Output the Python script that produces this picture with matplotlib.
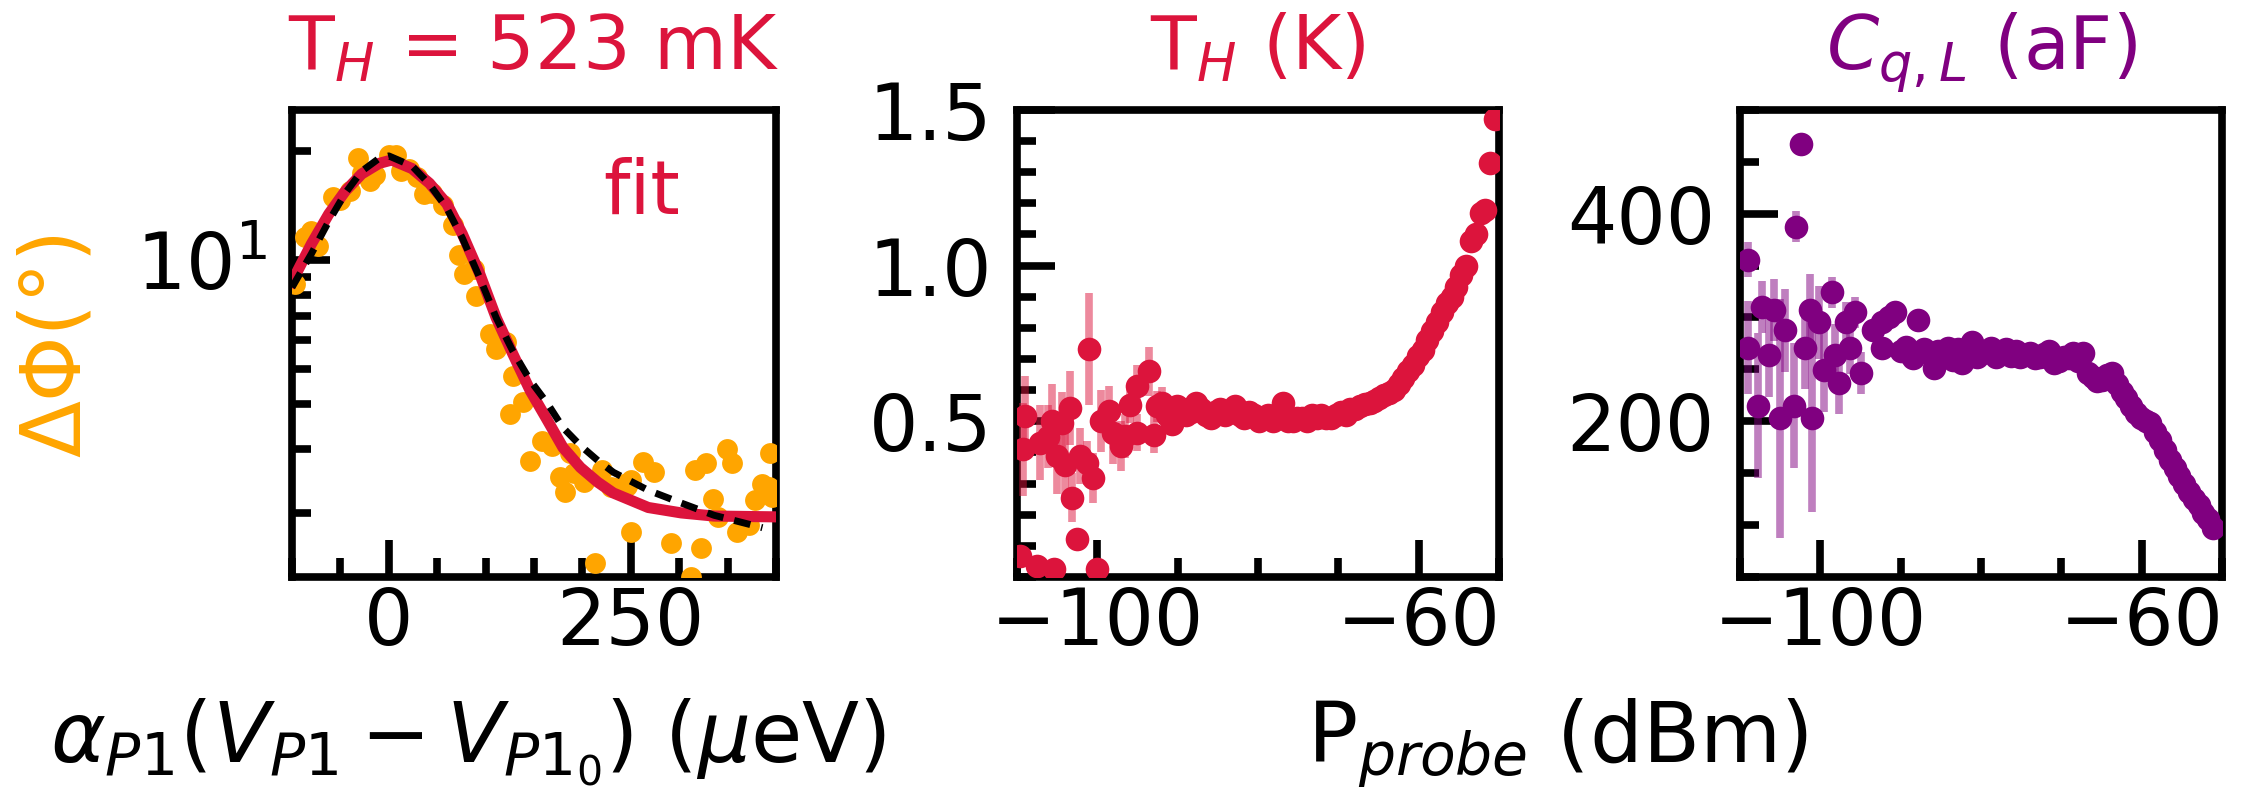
import numpy as np
import matplotlib
matplotlib.use('Agg')
import matplotlib.pyplot as plt
from matplotlib.ticker import MultipleLocator, NullFormatter

# ---- left panel: phase response vs detuning ----
phi_x = [-97.2, -86.8, -79.9, -72.9, -57.3, -50.3, -39.9, -31.3, -27.8, -19.1, -13.9, 0.0, 7.0,
         12.2, 20.8, 29.5, 36.5, 45.1, 55.5, 65.9, 72.9, 78.1, 88.5, 90.3, 104.2, 111.1, 121.6,
         128.4, 125.0, 138.9, 145.8, 158.0, 168.4, 177.1, 182.3, 190.9, 201.4, 220.5, 229.2,
         250.0, 262.2, 274.3, 250.0, 291.7, 315.9, 328.1, 322.9, 312.5, 213.5, 335.1, 349.0,
         354.2, 340.3, 359.4, 371.6, 378.4, 385.4, 394.1, 395.8, 187.5, 243.0, 392.4, 246.5]
phi_y = [8.57, 11.6, 12.0, 10.9, 14.9, 14.7, 15.5, 19.1, 17.4, 16.5, 17.2, 19.5, 19.5,
         17.6, 17.9, 17.0, 15.2, 15.3, 14.2, 12.5, 10.3, 9.14, 9.42, 7.96, 6.24, 5.68, 5.92,
         4.79, 3.76, 4.05, 2.79, 3.17, 3.07, 2.51, 2.29, 2.57, 2.44, 2.63, 2.36,
         2.46, 2.77, 2.60, 1.77, 1.65, 2.63, 2.74, 1.60, 1.33, 1.45, 2.19, 3.01,
         2.74, 1.95, 1.77, 1.85, 2.17, 2.41, 2.92, 2.21, 2.92, 2.41, 2.36, 2.38]

fit_x = [-100, -80, -62, -45, -28, -10, 3, 24, 42, 60, 76, 94, 111, 128, 146, 164, 180,
         198, 216, 232, 268, 302, 336, 400]
fit_y = [8.7, 11.07, 13.4, 15.5, 17.3, 18.5, 18.9, 17.9, 16.3, 14.3, 11.8, 9.15, 6.92, 5.51,
         4.36, 3.60, 3.03, 2.67, 2.43, 2.27, 2.07, 2.00, 1.96, 1.95]

th_x = [-100, -80, -62, -45, -28, -10, 0, 24, 42, 60, 76, 94, 111, 128, 146, 164, 180,
        198, 216, 232, 268, 302, 336, 386]
th_y = [8.4, 10.4, 12.8, 15.3, 17.6, 19.1, 19.4, 18.2, 16.2, 13.9, 11.5, 8.92, 6.92, 5.61,
        4.65, 4.01, 3.44, 3.07, 2.79, 2.59, 2.31, 2.13, 1.97, 1.82]

# ---- middle panel: T_H vs probe power ----
th_p = [-109.6, -109.2, -109.0, -107.5, -107.1, -106.1, -105.6, -105.4, -105.0, -104.4,
        -104.0, -103.4, -103.1, -102.5, -102.1, -101.3, -101.0, -100.5, -100.0, -99.6,
        -98.6, -98.0, -97.1, -96.5, -95.9, -95.1, -95.1, -93.6, -93.0, -92.6,
        -91.9, -91.3, -90.7, -90.1, -89.5, -88.9, -88.3, -87.7, -87.1, -86.5, -85.9, -85.3,
        -84.7, -84.1, -83.5, -82.9, -82.3, -81.7, -81.1, -80.5, -79.9, -79.3, -78.7, -78.1,
        -77.5, -76.9, -76.3, -75.7, -75.1, -74.5, -73.9, -73.3, -72.7, -72.1, -71.5, -70.9,
        -70.3, -69.7, -69.1, -68.5, -67.9, -67.3,
        -66.7, -66.1, -65.5, -64.9, -64.3, -63.7, -63.1, -62.5, -61.9, -61.3, -60.7, -60.1,
        -59.5, -58.9, -58.3, -57.7, -57.1, -56.5, -55.9, -55.3, -54.7, -54.1, -53.5, -52.9,
        -52.3, -51.7, -51.1, -50.5]
th_val = [0.068, 0.41, 0.516, 0.036, 0.431, 0.451, 0.50, 0.026, 0.388, 0.495,
          0.361, 0.543, 0.255, 0.122, 0.388, 0.367, 0.731, 0.319, 0.026, 0.50,
          0.532, 0.463, 0.42, 0.452, 0.553, 0.612, 0.463, 0.66, 0.457, 0.548,
          0.56, 0.52, 0.49, 0.55, 0.54, 0.52, 0.53, 0.56, 0.54, 0.52, 0.51, 0.53,
          0.54, 0.52, 0.53, 0.55, 0.52, 0.51, 0.53, 0.52, 0.50, 0.51, 0.52, 0.50,
          0.51, 0.56, 0.50, 0.50, 0.51, 0.51, 0.50, 0.52, 0.51, 0.52, 0.51, 0.51,
          0.52, 0.53, 0.52, 0.54, 0.54, 0.55,
          0.555, 0.56, 0.565, 0.575, 0.585, 0.59, 0.60, 0.62, 0.64, 0.66, 0.68, 0.71,
          0.73, 0.76, 0.79, 0.82, 0.85, 0.88, 0.90, 0.93, 0.97, 1.00, 1.08, 1.10,
          1.17, 1.18, 1.33, 1.47]
th_err = [0.03, 0.15, 0.13, 0.03, 0.12, 0.10, 0.12, 0.03, 0.12, 0.10,
          0.10, 0.12, 0.08, 0.03, 0.09, 0.07, 0.18, 0.08, 0.02, 0.10,
          0.08, 0.10, 0.08, 0.07, 0.06, 0.07, 0.06, 0.08, 0.06, 0.05,
          0.05, 0.04, 0.03, 0.03, 0.02, 0.02, 0.02, 0.02, 0.02, 0.02, 0.02, 0.02,
          0.02, 0.02, 0.02, 0.02, 0.02, 0.02, 0.02, 0.02, 0.02, 0.02, 0.02, 0.02,
          0.02, 0.02, 0.02, 0.02, 0.02, 0.02, 0.02, 0.02, 0.02, 0.02, 0.02, 0.02,
          0.02, 0.02, 0.02, 0.02, 0.02, 0.02,
          0.02, 0.02, 0.02, 0.02, 0.02, 0.02, 0.02, 0.02, 0.02, 0.02, 0.02, 0.02,
          0.02, 0.02, 0.02, 0.02, 0.02, 0.02, 0.02, 0.02, 0.02, 0.02, 0.02, 0.02,
          0.02, 0.02, 0.02, 0.02]

# ---- right panel: quantum capacitance vs probe power ----
cq_p = [-109.0, -109.0, -107.8, -107.2, -106.4, -105.8, -105.0, -104.4, -103.3, -103.0,
        -102.4, -101.9, -101.3, -101.0, -100.2, -99.6, -98.5, -98.2, -97.7, -96.8,
        -96.3, -95.7, -94.9, -93.5, -92.3, -92.3, -91.5, -90.7, -88.4, -87.8,
        -89.9, -89.3, -88.7, -87.1, -86.5, -85.9, -85.3, -84.7, -84.1, -83.5, -82.9, -82.3,
        -81.7, -81.1, -80.5, -79.9, -79.3, -78.7, -78.1, -77.5, -76.9, -76.3, -75.7, -75.1,
        -74.5, -73.9, -73.3, -72.7, -72.1, -71.5, -70.9, -70.3, -69.7, -69.1, -68.5, -67.9,
        -67.3,
        -66.7, -66.1, -65.5, -64.9, -64.3, -63.7, -63.1, -62.5, -61.9, -61.3, -60.7, -60.1,
        -59.5, -58.9, -58.3, -57.7, -57.1, -56.5, -55.9, -55.3, -54.7, -54.1, -53.5, -52.9,
        -52.3, -51.7, -51.1]
cq_val = [355.8, 270.9, 215.0, 309.7, 263.6, 307.3, 202.9, 287.9, 215.0, 387.4,
          467.5, 270.9, 307.3, 202.9, 295.2, 249.0, 324.3, 263.6, 236.9, 295.2,
          270.9, 305.1, 246.7, 287.9, 295.2, 270.9, 300.0, 305.1, 261.2, 297.6,
          268, 272, 264, 270, 266, 251, 268, 262, 271, 259, 270, 256,
          266, 276, 262, 266, 268, 271, 262, 266, 270, 263, 268, 262,
          264, 266, 261, 262, 265, 268, 256, 258, 262, 261, 266, 258,
          266,
          247, 243, 239, 240, 245, 247, 236, 228, 222, 215, 208, 203,
          200, 198, 190, 182, 172, 163, 155, 147, 140, 132, 125, 119,
          112, 106, 97]
cq_err = [17, 45, 70, 25, 40, 30, 115, 40, 60, 15,
          8, 40, 35, 90, 35, 40, 15, 30, 30, 20,
          25, 15, 20, 10, 8, 8, 6, 6, 5, 5,
          4, 4, 4, 4, 4, 4, 4, 4, 4, 4, 4, 4,
          4, 4, 4, 4, 4, 4, 4, 4, 4, 4, 4, 4,
          4, 4, 4, 4, 4, 4, 4, 4, 4, 4, 4, 4,
          4,
          4, 4, 4, 4, 4, 4, 4, 4, 4, 4, 4, 4,
          4, 4, 4, 4, 4, 4, 4, 4, 4, 4, 4, 4,
          4, 4, 4]

FS_TICK = 56
FS_LAB = 60
FS_TITLE = 54
ORANGE = '#FFA500'
RED = '#DC143C'
PURPLE = '#800080'

fig = plt.figure(figsize=(22.46, 7.93), dpi=100)
ax1 = fig.add_axes([0.1300, 0.2724, 0.2155, 0.589])
ax2 = fig.add_axes([0.4528, 0.2724, 0.2146, 0.589])
ax3 = fig.add_axes([0.7747, 0.2724, 0.2146, 0.589])

for ax in (ax1, ax2, ax3):
    for s in ax.spines.values():
        s.set_linewidth(5.5)
    ax.tick_params(which='both', direction='in', width=5.5, top=False, right=False,
                   labelsize=FS_TICK)
    ax.tick_params(which='major', length=27)
    ax.tick_params(which='minor', length=14)
    ax.tick_params(axis='x', which='both', pad=6)
    ax.tick_params(axis='y', which='both', pad=18)

# left
ax1.plot(phi_x, phi_y, 'o', color=ORANGE, ms=15, mec='none', zorder=3)
ax1.plot(fit_x, fit_y, '-', color=RED, lw=8, zorder=4)
ax1.plot(th_x, th_y, color='black', lw=5, ls=(0, (2.4, 1.6)), zorder=5)
ax1.set_yscale('log')
ax1.set_ylim(1.33, 26)
ax1.set_xlim(-100, 400)
ax1.set_xticks([0, 250])
ax1.xaxis.set_minor_locator(MultipleLocator(50))
ax1.yaxis.set_minor_formatter(NullFormatter())
ax1.text(0.643, 0.778, 'fit', transform=ax1.transAxes, color=RED, fontsize=FS_TITLE,
         ha='left', va='baseline')
ax1.set_title('T$_H$ = 523 mK', color=RED, fontsize=FS_TITLE, pad=29)

# middle
ax2.errorbar(th_p, th_val, yerr=th_err, fmt='none', ecolor=RED, alpha=0.5,
             elinewidth=5.5, zorder=3)
ax2.plot(th_p, th_val, 'o', color=RED, ms=17, mec='none', zorder=4)
ax2.set_xlim(-110, -50)
ax2.set_ylim(0, 1.5)
ax2.set_xticks([-100, -60])
ax2.xaxis.set_minor_locator(MultipleLocator(10))
ax2.set_yticks([0.5, 1.0, 1.5])
ax2.yaxis.set_minor_locator(MultipleLocator(0.1))
ax2.set_title('T$_H$ (K)', color=RED, fontsize=FS_TITLE, pad=29)

# right
ax3.errorbar(cq_p, cq_val, yerr=cq_err, fmt='none', ecolor=PURPLE, alpha=0.5,
             elinewidth=5.5, zorder=3)
ax3.plot(cq_p, cq_val, 'o', color=PURPLE, ms=17, mec='none', zorder=4)
ax3.set_xlim(-110, -50)
ax3.set_ylim(50, 500)
ax3.set_xticks([-100, -60])
ax3.xaxis.set_minor_locator(MultipleLocator(10))
ax3.set_yticks([200, 400])
ax3.yaxis.set_minor_locator(MultipleLocator(50))
ax3.set_title('$C_{q,L}$ (aF)', color=PURPLE, fontsize=FS_TITLE, pad=29)

fig.text(56 / 2246, 1 - 342 / 793, 'ΔΦ(°)', rotation=90, color=ORANGE, fontsize=FS_LAB,
         ha='center', va='center')
fig.text(468 / 2246, 1 - 762 / 793, r'$\alpha_{P1}(V_{P1}-V_{P1_0})$ ($\mu$eV)',
         fontsize=FS_LAB, ha='center', va='baseline')
fig.text(1557 / 2246, 1 - 762 / 793, 'P$_{probe}$ (dBm)', fontsize=FS_LAB,
         ha='center', va='baseline')

fig.savefig('out.png', dpi=100)
